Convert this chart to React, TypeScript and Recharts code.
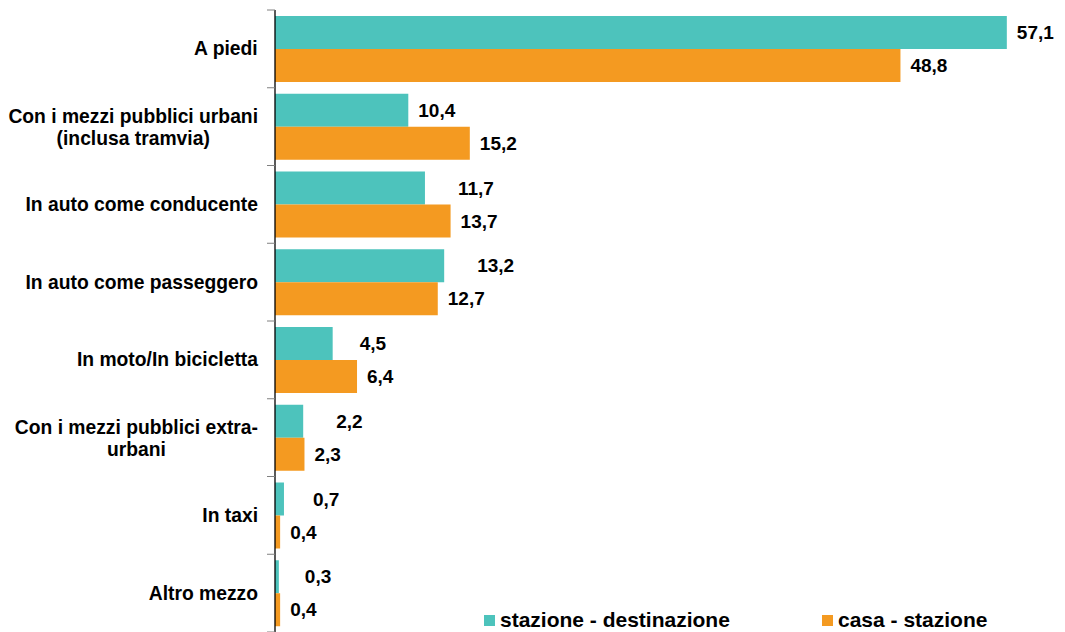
import React from "react";
import { BarChart, Bar, XAxis, YAxis, Legend, LabelList } from "recharts";

// categories (Excel wraps two of them on two lines)
const categories = [
  "A piedi",
  "Con i mezzi pubblici urbani\n(inclusa tramvia)",
  "In auto come conducente",
  "In auto come passeggero",
  "In moto/In bicicletta",
  "Con i mezzi pubblici extra-\nurbani",
  "In taxi",
  "Altro mezzo",
];
const stazioneDestinazione = [57.1, 10.4, 11.7, 13.2, 4.5, 2.2, 0.7, 0.3];
const casaStazione = [48.8, 15.2, 13.7, 12.7, 6.4, 2.3, 0.4, 0.4];
const seriesNames = ["stazione - destinazione", "casa - stazione"];

const TEAL = "#4DC3BC";
const ORANGE = "#F49A21";
const FONT = "'Liberation Sans', Arial, sans-serif";

const W = 1057;
const H = 624;
const MARGIN = { top: 2, right: 21, bottom: 0, left: 0 };
const BAND = (H - MARGIN.top - MARGIN.bottom) / categories.length;

// the teal labels were dragged a bit further right in the original
const tealLabelShift = [0, 0, 23, 23, 17, 23, 19, 16];

const data = categories.map((cat, i) => ({
  cat,
  sd: stazioneDestinazione[i],
  cs: casaStazione[i],
}));

let ctx: CanvasRenderingContext2D | null = null;
function textWidth(s: string, font: string) {
  if (!ctx) ctx = document.createElement("canvas").getContext("2d");
  if (!ctx) return s.length * 9;
  ctx.font = font;
  return ctx.measureText(s).width;
}

const fmt = (v: number) => v.toFixed(1).replace(".", ",");

function CatTick({ x, y, payload, index }: any) {
  const lines = String(payload.value).split("\n");
  const right = x - 17;
  const font = `bold 19.3px ${FONT}`;
  const maxW = Math.max(...lines.map((l) => textWidth(l, font)));
  const cx = right - maxW / 2;
  const top = y - BAND / 2;
  return (
    <g>
      <line x1={x - 8} x2={x} y1={top} y2={top} stroke="#808080" />
      {index === categories.length - 1 && (
        <line x1={x - 8} x2={x} y1={top + BAND} y2={top + BAND} stroke="#808080" />
      )}
      {lines.map((l, i) => (
        <text
          key={i}
          x={cx}
          y={y + (lines.length > 1 ? (i === 0 ? -10 : 12) : 0)}
          textAnchor="middle"
          dominantBaseline="central"
          fontFamily={FONT}
          fontWeight="bold"
          fontSize={19.3}
          fill="#000"
        >
          {l}
        </text>
      ))}
    </g>
  );
}

function makeLabel(shift: number[] | null) {
  return (props: any) => {
    const { x, y, width, height, value, index } = props;
    const dx = 10 + (shift && index != null ? shift[index] ?? 0 : 0);
    return (
      <text
        x={Number(x) + Number(width) + dx}
        y={Number(y) + Number(height) / 2}
        dominantBaseline="central"
        fontFamily={FONT}
        fontWeight="bold"
        fontSize={19}
        fill="#000"
      >
        {fmt(Number(value))}
      </text>
    );
  };
}

function LegendContent({ payload }: any) {
  const items = [...(payload || [])].sort(
    (a: any, b: any) => seriesNames.indexOf(a.value) - seriesNames.indexOf(b.value)
  );
  return (
    <div style={{ position: "relative", height: 24, fontFamily: FONT }}>
      {items.map((p: any, i: number) => (
        <div
          key={i}
          style={{
            position: "absolute",
            left: i * 338,
            top: 0,
            display: "flex",
            alignItems: "center",
            whiteSpace: "nowrap",
          }}
        >
          <span
            style={{
              display: "inline-block",
              width: 11,
              height: 11,
              background: p.color,
              marginRight: 5,
            }}
          />
          <span style={{ fontSize: 21, fontWeight: "bold", color: "#000" }}>{p.value}</span>
        </div>
      ))}
    </div>
  );
}

export default function App() {
  return (
    <div style={{ width: W, height: H, position: "relative" }}>
      <BarChart
        width={W}
        height={H}
        data={data}
        layout="vertical"
        margin={MARGIN}
        barCategoryGap={6}
        barGap={0}
      >
        <XAxis type="number" domain={[0, 60]} hide />
        <YAxis
          type="category"
          dataKey="cat"
          width={267}
          interval={0}
          tickSize={0}
          tickMargin={0}
          tickLine={false}
          axisLine={{ stroke: "#000", strokeWidth: 1.3 }}
          tick={<CatTick />}
        />
        <Bar dataKey="sd" name={seriesNames[0]} fill={TEAL} isAnimationActive={false}>
          <LabelList dataKey="sd" content={makeLabel(tealLabelShift)} />
        </Bar>
        <Bar dataKey="cs" name={seriesNames[1]} fill={ORANGE} isAnimationActive={false}>
          <LabelList dataKey="cs" content={makeLabel(null)} />
        </Bar>
        <Legend
          layout="horizontal"
          verticalAlign="middle"
          align="center"
          content={<LegendContent />}
          wrapperStyle={{ position: "absolute", left: 476, top: 600, width: 560, height: 24 }}
        />
      </BarChart>
    </div>
  );
}
